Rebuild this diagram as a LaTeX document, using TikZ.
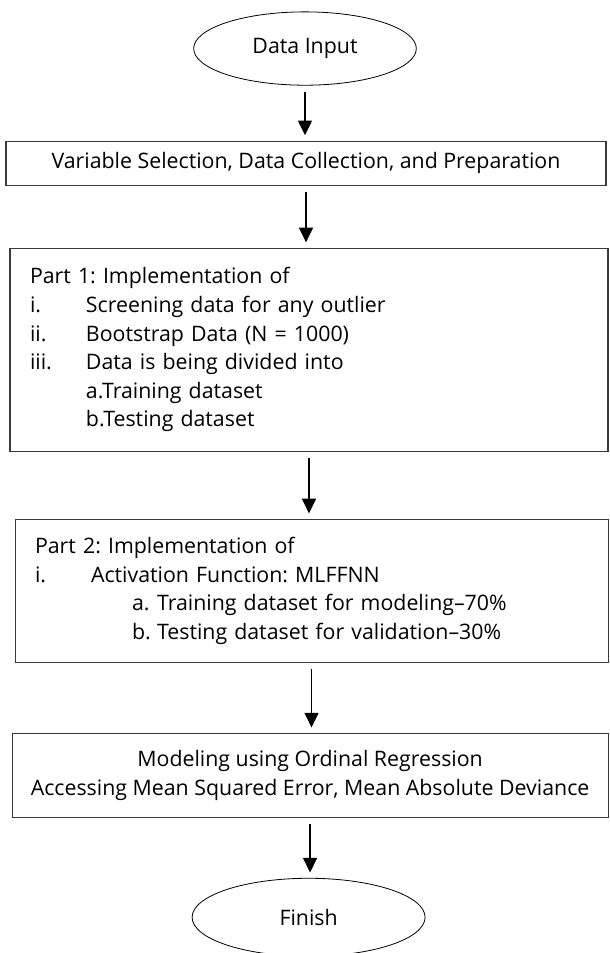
\documentclass[tikz,border=0pt]{standalone}
\usepackage{fontspec}
\setmainfont{Open Sans}
\usetikzlibrary{arrows.meta,positioning,shapes.geometric}
\definecolor{boxline}{HTML}{3A3A3A}
\frenchspacing

\begin{document}
\begin{tikzpicture}[>={Triangle[length=11pt,width=10.5pt]}, node distance=45pt,
  font=\fontsize{16}{21.4}\selectfont,
  terminal/.style={draw, ellipse, line width=0.6pt, inner sep=0pt},
  stepbox/.style={draw=boxline, line width=0.8pt, align=center, inner sep=0pt},
  listbox/.style={draw=boxline, line width=0.8pt, align=left, inner xsep=15pt, inner ysep=0pt},
  flow/.style={->, line width=1pt, shorten <=4.5pt, shorten >=4pt}]
\useasboundingbox (0,0) rectangle (457.5pt,-714.75pt);

\node[terminal, minimum width=167pt, minimum height=55pt] (input) at (228.75pt,-36.4pt) {Data Input};
\node[stepbox, minimum width=450pt, minimum height=33pt, below=41.25pt of input, xshift=0.75pt] (prep)
  {Variable Selection, Data Collection, and Preparation};
\node[listbox, text width=418.5pt, minimum height=152.25pt, below=46.5pt of prep, xshift=2.25pt] (part1)
  {Part 1: Implementation of\\
   \makebox[42pt][l]{i.}Screening data for any outlier\\
   \makebox[42pt][l]{ii.}Bootstrap Data (N = 1000)\\
   \makebox[42pt][l]{iii.}Data is being divided into\\
   \hspace*{42pt}a.Training dataset\\
   \hspace*{42pt}b.Testing dataset};
\node[listbox, text width=414.75pt, minimum height=107.25pt, below=50.25pt of part1, xshift=1.9pt] (part2)
  {Part 2: Implementation of\\
   \makebox[42pt][l]{i.}Activation Function: MLFFNN\\
   \hspace*{72.75pt}\makebox[18.75pt][l]{a.}Training dataset for modeling--70\%\\
   \hspace*{72.75pt}\makebox[18.75pt][l]{b.}Testing dataset for validation--30\%};
\node[stepbox, minimum width=447pt, minimum height=63pt, below=52.5pt of part2, xshift=-1.1pt] (model)
  {Modeling using Ordinal Regression\\
   Accessing Mean Squared Error, Mean Absolute Deviance};
\node[terminal, minimum width=174.75pt, minimum height=58.5pt, below=of model, xshift=-1.1pt] (finish) {Finish};

\draw[flow] (input.south) -- (input.south |- prep.north);
\draw[flow] (prep.south) -- (prep.south |- part1.north);
\draw[flow] (part1.south) -- (part1.south |- part2.north);
\draw[flow] (part2.south) -- (part2.south |- model.north);
\draw[flow] (model.south) -- (model.south |- finish.north);
\end{tikzpicture}
\end{document}
